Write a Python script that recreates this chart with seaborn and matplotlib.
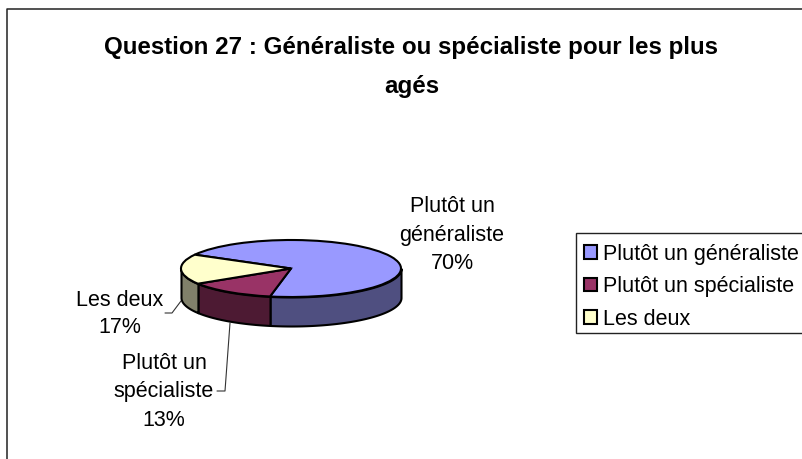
import numpy as np
import matplotlib
matplotlib.use("Agg")
import matplotlib.pyplot as plt
from matplotlib.patches import Patch, Rectangle
import seaborn as sns

sns.set_theme(style="white")
plt.rcParams['font.family'] = ['Liberation Sans', 'DejaVu Sans']

# --- DATA ---
categories = ["Plutôt un généraliste", "Plutôt un spécialiste", "Les deux"]
values = [70, 13, 17]
slice_labels = ["Plutôt un\ngénéraliste", "Plutôt un\nspécialiste", "Les deux"]
title_text = "Question 27 : Généraliste ou spécialiste pour les plus\nagés"

top_colors = ["#9999FF", "#993366", "#FFFFCC"]
side_colors = ["#4F4F80", "#4D1A33", "#80806A"]

W, H = 802, 459
fig = plt.figure(figsize=(W / 100, H / 100), dpi=100)

# overlay in pixels for frame, text and leader lines
over = fig.add_axes([0, 0, 1, 1])
over.set_xlim(0, W)
over.set_ylim(H, 0)
over.axis("off")
over.plot([7, 7, W], [H, 9, 9], color="#222222", lw=1.1)

# --- pie, squashed by its axes ---
cx, cy, rx, ry, depth = 291, 268.5, 110, 28.5, 29
ax = fig.add_axes([(cx - rx) / W, 1 - (cy + ry + depth + 2) / H,
                   2 * rx / W, (2 * ry + depth + 2) / H])
start = 151
edges = start - np.cumsum([0] + values) * 3.6
for i in range(len(values)):
    a0 = max(edges[i + 1], -180)
    a1 = min(edges[i], 0)
    if a1 > a0:
        t = np.radians(np.linspace(a0, a1, 80))
        x = np.cos(t)
        y = np.sin(t)
        ax.fill_between(x, y, y - depth / ry, facecolor=side_colors[i],
                        edgecolor="black", lw=1.5)
ax.pie(values, colors=top_colors, startangle=start, counterclock=False,
       radius=1, wedgeprops=dict(edgecolor="black", lw=1.5))
ax.set_aspect("auto")
ax.set_xlim(-1, 1)
ax.set_ylim(-1 - (depth + 2) / ry, 1)
ax.axis("off")
ax.patch.set_alpha(0)
for a in ax.patches + ax.collections:
    a.set_clip_on(False)

# --- text ---
over.text(411.5, 67, title_text, ha="center", va="center", fontsize=17.4,
          fontweight="bold", color="black", linespacing=1.86)
over.text(452, 235, f"{slice_labels[0]}\n{values[0]}%", ha="center", va="center",
          fontsize=15.5, color="black", linespacing=1.45)
over.text(164, 392, f"{slice_labels[1]}\n{values[1]}%", ha="center", va="center",
          fontsize=15.5, color="black", linespacing=1.45)
over.text(120, 314, f"{slice_labels[2]}\n{values[2]}%", ha="center", va="center",
          fontsize=15.5, color="black", linespacing=1.4)

# leader lines
over.plot([165, 172, 181], [313, 313, 301], color="#333333", lw=0.8)
over.plot([217, 225, 230], [391, 391, 323], color="#333333", lw=0.8)

# --- legend ---
over.add_patch(Rectangle((576, 233), 240, 100, facecolor="white",
                         edgecolor="#222222", lw=1.0, zorder=3))
handles = [Patch(facecolor=c, edgecolor="black", lw=1.5) for c in top_colors]
leg = over.legend(handles, categories, loc="upper left",
                  bbox_to_anchor=(574 / W, 1 - 234 / H), fontsize=15.5,
                  frameon=False,
                  borderaxespad=0, borderpad=0.45, labelspacing=0.53,
                  handlelength=0.62, handleheight=0.62, handletextpad=0.28,
                  labelcolor="black")
leg.set_zorder(4)

fig.savefig("out.png", dpi=100, facecolor="white")
